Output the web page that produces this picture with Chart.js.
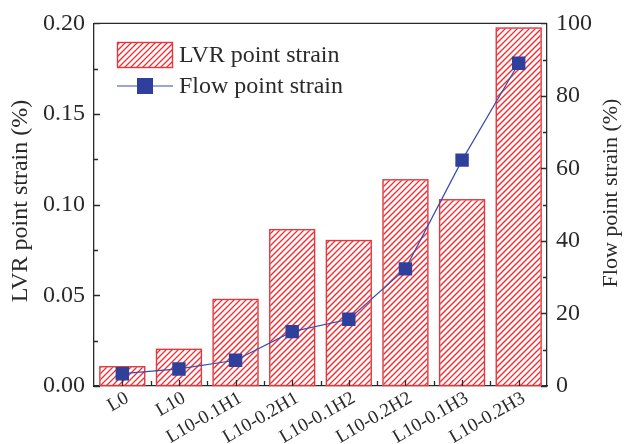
<!DOCTYPE html>
<html>
<head>
<meta charset="utf-8">
<script src="https://cdn.jsdelivr.net/npm/chart.js@4/dist/chart.umd.min.js"></script>
<style>
	html, body { margin: 0; padding: 0; background: #fff }
	#wrap { width: 624px; height: 444px }
</style>
</head>
<body>
<div id="wrap"><canvas id="c"></canvas></div>
<script>
const samples = ['L0', 'L10', 'L10-0.1H1', 'L10-0.2H1', 'L10-0.1H2', 'L10-0.2H2', 'L10-0.1H3', 'L10-0.2H3']
const lvrStrain = [0.0109, 0.0205, 0.048, 0.0865, 0.0805, 0.114, 0.103, 0.1977]
const flowStrain = [3.4, 4.7, 7.1, 15.0, 18.4, 32.3, 62.3, 89.0]
const leftTicks = [0, 0.05, 0.10, 0.15, 0.20]
const rightTicks = [0, 20, 40, 60, 80, 100]
const leftTitle = 'LVR point strain (%)'
const rightTitle = 'Flow point strain (%)'

const serif = "'Liberation Serif', 'Times New Roman', serif"
const red = '#e0383d'
const hatchRed = 'rgb(235, 45, 50)'
const blue = '#3a4cab'
const dark = '#2a2a2a'

let ctx = document.getElementById('c').getContext('2d')

// diagonal "/" hatch inside a rectangle
let hatchRect = (c, x0, y0, x1, y1) => {
	c.save()
	c.beginPath()
	c.rect(x0, y0, x1 - x0, y1 - y0)
	c.clip()
	c.strokeStyle = hatchRed
	c.lineWidth = 1.3
	c.beginPath()
	let k0 = Math.floor((x0 + y0) / 6) * 6
	for (let k = k0; k <= x1 + y1 + 6; k += 6) {
		c.moveTo(k - y1 - 1, y1 + 1)
		c.lineTo(k - y0 + 1, y0 - 1)
	}
	c.stroke()
	c.restore()
}

let hatchBars = {
	id: 'hatchBars',
	afterDatasetDraw(chart, args) {
		if (args.index !== 0) return
		let c = chart.ctx
		args.meta.data.forEach(bar => {
			let p = bar.getProps(['x', 'y', 'base', 'width'], true)
			let x0 = p.x - p.width / 2, x1 = p.x + p.width / 2
			let y0 = Math.min(p.y, p.base), y1 = Math.max(p.y, p.base)
			hatchRect(c, x0 + 1, y0 + 1, x1 - 1, y1 - 1)
			c.save()
			c.strokeStyle = red
			c.lineWidth = 1.4
			c.strokeRect(x0 + 0.5, y0 + 0.5, x1 - x0 - 1, y1 - y0 - 1)
			c.restore()
		})
	}
}

// box on top, inward ticks, titles and legend
let frame = {
	id: 'frame',
	afterDraw(chart) {
		let c = chart.ctx
		let a = chart.chartArea
		let x = chart.scales.x, y = chart.scales.y, y1 = chart.scales.y1
		c.save()
		c.strokeStyle = dark
		c.lineWidth = 1.3
		c.beginPath()
		c.moveTo(a.left, a.top); c.lineTo(a.right, a.top)
		for (let v = 0; v <= 0.2001; v += 0.025) {
			let py = Math.round(y.getPixelForValue(v)) + 0.5
			let len = Math.abs(v / 0.05 - Math.round(v / 0.05)) < 1e-6 ? 6 : 4
			c.moveTo(a.left, py); c.lineTo(a.left + len, py)
		}
		for (let v = 0; v <= 100; v += 10) {
			let py = Math.round(y1.getPixelForValue(v)) + 0.5
			let len = v % 20 === 0 ? 6 : 4
			c.moveTo(a.right, py); c.lineTo(a.right - len, py)
		}
		samples.forEach((s, i) => {
			let px = Math.round(x.getPixelForValue(i)) + 0.5
			c.moveTo(px, a.bottom); c.lineTo(px, a.bottom - 6)
			if (i > 0) {
				let bx = Math.round((x.getPixelForValue(i) + x.getPixelForValue(i - 1)) / 2) + 0.5
				c.moveTo(bx, a.bottom); c.lineTo(bx, a.bottom - 5)
			}
		})
		c.stroke()

		// axis titles
		c.fillStyle = dark
		c.textAlign = 'center'
		c.textBaseline = 'middle'
		c.font = '24px ' + serif
		c.save()
		c.translate(21, 201)
		c.rotate(-Math.PI / 2)
		c.fillText(leftTitle, 0, 0)
		c.restore()
		c.font = '22px ' + serif
		c.save()
		c.translate(611, 193)
		c.rotate(-Math.PI / 2)
		c.fillText(rightTitle, 0, 0)
		c.restore()

		// legend
		let lx = 117
		hatchRect(c, lx + 1, 43, lx + 55, 67)
		c.strokeStyle = red
		c.lineWidth = 1.4
		c.strokeRect(lx + 0.5, 42.5, 55, 25)
		c.strokeStyle = blue
		c.lineWidth = 1.2
		c.beginPath()
		c.moveTo(lx, 86); c.lineTo(lx + 56, 86)
		c.stroke()
		c.fillStyle = '#2e3f9c'
		c.fillRect(lx + 20, 78, 16, 16)
		c.fillStyle = dark
		c.textAlign = 'left'
		c.font = '24px ' + serif
		c.fillText(chart.data.datasets[0].label, lx + 62, 56)
		c.fillText(chart.data.datasets[1].label, lx + 62, 87)
		c.restore()
	}
}

new Chart(ctx, {
	data: {
		labels: samples,
		datasets: [
			{
				type: 'bar',
				label: 'LVR point strain',
				data: lvrStrain,
				yAxisID: 'y',
				backgroundColor: '#ffffff',
				borderColor: red,
				borderWidth: 0,
				barPercentage: 0.81,
				categoryPercentage: 1,
				order: 2
			},
			{
				type: 'line',
				label: 'Flow point strain',
				data: flowStrain,
				yAxisID: 'y1',
				borderColor: blue,
				borderWidth: 1.2,
				pointStyle: 'rect',
				pointRadius: 9.5,
				pointBackgroundColor: '#2e3f9c',
				pointBorderWidth: 0,
				tension: 0,
				order: 1
			}
		]
	},
	options: {
		responsive: true,
		maintainAspectRatio: false,
		animation: false,
		layout: { padding: { top: 19, left: 0, right: 0, bottom: 0 } },
		plugins: { legend: { display: false }, tooltip: { enabled: false } },
		scales: {
			x: {
				grid: { display: false, drawTicks: false },
				border: { color: dark, width: 1.3 },
				ticks: {
					color: dark,
					font: { family: serif, size: 19 },
					maxRotation: 30,
					minRotation: 30,
					padding: 1,
					labelOffset: 5,
					autoSkip: false
				},
				afterFit: s => { s.height = 58 }
			},
			y: {
				position: 'left',
				min: 0,
				max: 0.2,
				grid: { display: false, drawTicks: false },
				border: { color: dark, width: 1.3 },
				afterBuildTicks: s => { s.ticks = leftTicks.map(v => ({ value: v })) },
				ticks: {
					color: dark,
					font: { family: serif, size: 24 },
					padding: 9,
					callback: v => v.toFixed(2)
				},
				afterFit: s => { s.width = 94 }
			},
			y1: {
				position: 'right',
				min: 0,
				max: 100,
				grid: { display: false, drawTicks: false },
				border: { color: dark, width: 1.3 },
				afterBuildTicks: s => { s.ticks = rightTicks.map(v => ({ value: v })) },
				ticks: {
					color: dark,
					font: { family: serif, size: 24 },
					padding: 9
				},
				afterFit: s => { s.width = 77 }
			}
		}
	},
	plugins: [hatchBars, frame]
})
</script>
</body>
</html>
